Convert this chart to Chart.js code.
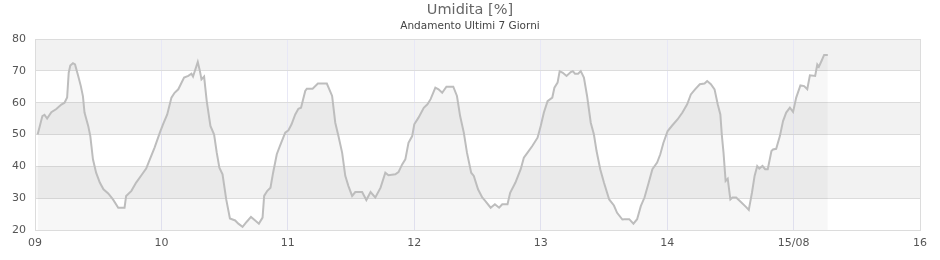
<!DOCTYPE html>
<html>
<head>
<meta charset="utf-8">
<script src="https://cdn.jsdelivr.net/npm/chart.js@4/dist/chart.umd.min.js"></script>
<style>
  html, body { margin: 0; padding: 0; background: #fff; }
  #wrap { width: 940px; height: 260px; }
</style>
</head>
<body>
<div id="wrap"><canvas id="humChart"></canvas></div>
<script>
// ore dall'inizio del 09/08
const hours = [
  0.5, 1.4, 1.8, 2.3, 3.1, 4.05, 5.0, 5.6, 6.1, 6.4, 6.7, 7.2, 7.6, 8.2, 8.7, 9.1, 9.4, 10.1, 10.5, 11.0,
  11.6, 12.3, 13.0, 13.9, 14.8, 15.8, 17.0, 17.3, 18.3, 19.2, 20.2, 21.1, 21.8, 22.7, 23.7, 24.3, 25.1, 25.9, 26.5, 27.2,
  28.3, 29.1, 29.7, 30.0, 30.9, 31.3, 31.6, 32.1, 32.6, 33.3, 34.0, 34.5, 35.0, 35.6, 36.3, 37.0, 38.0, 38.6, 39.4, 40.2,
  41.0, 41.8, 42.5, 43.2, 43.5, 44.1, 44.7, 45.2, 45.9, 46.5, 47.5, 48.1, 48.7, 49.4, 50.0, 50.5, 51.3, 51.6, 52.7, 53.7,
  55.4, 56.4, 57.0, 57.6, 58.3, 58.9, 59.5, 60.2, 60.8, 62.1, 62.9, 63.7, 64.6, 65.6, 66.5, 67.1, 68.4, 69.0, 69.7, 70.3,
  70.9, 71.6, 72.0, 72.8, 73.8, 74.5, 75.1, 76.0, 76.6, 77.3, 78.1, 79.4, 80.1, 80.7, 81.4, 82.0, 82.8, 83.3, 84.1, 84.9,
  85.5, 86.5, 87.3, 88.1, 88.7, 89.7, 90.2, 91.2, 92.2, 92.8, 93.5, 94.4, 95.4, 96.0, 96.6, 97.3, 98.2, 98.6, 99.2, 99.6,
  100.2, 100.9, 101.7, 102.1, 102.5, 103.1, 103.6, 104.2, 104.8, 105.5, 106.1, 106.6, 107.3, 108.0, 109.0, 109.9, 110.5, 111.5, 111.9, 112.8,
  113.6, 114.3, 115.0, 115.7, 116.4, 117.2, 118.1, 118.7, 119.3, 120.1, 121.0, 122.0, 122.9, 123.8, 124.5, 125.3, 126.2, 127.1, 127.6, 128.3,
  129.0, 129.6, 130.1, 130.4, 130.7, 131.1, 131.5, 132.0, 132.4, 133.1, 134.0, 135.0, 135.5, 136.1, 136.6, 137.1, 137.5, 138.1, 138.6, 139.1,
  139.8, 140.1, 140.7, 141.4, 142.0, 142.6, 143.3, 143.9, 144.5, 145.3, 146.0, 146.6, 147.1, 148.1, 148.5, 148.8, 149.3, 149.8, 150.5
];

const umidita = [
  50, 55.8, 56.2, 55, 57, 58, 59.4, 60, 61.6, 69.4, 71.7, 72.4, 72, 68.4, 65.2, 62, 56.9, 52.7, 49.5, 42.2,
  38, 34.9, 32.8, 31.5, 29.6, 27, 27, 30.7, 32.3, 34.9, 37.2, 39.3, 42.2, 45.9, 50.6, 53.2, 56.3, 61.6, 63.1, 64.2,
  67.9, 68.4, 69.1, 68.2, 72.8, 70, 67.3, 68.2, 60.5, 52.7, 50, 44.3, 39.6, 37.5, 29.6, 23.6, 23, 22, 21, 22.6,
  24.1, 23, 22, 23.9, 30.7, 32.3, 33.3, 38, 43.8, 46.4, 50.6, 51.3, 53.2, 56.3, 58.1, 58.4, 63.7, 64.4, 64.4, 66,
  66, 62.1, 53.7, 49.5, 44.3, 37, 33.8, 30.7, 31.9, 31.9, 29.4, 31.9, 30.2, 33.3, 38, 37.2, 37.5, 38.2, 40.6, 42.2,
  47.4, 49.5, 53.2, 55.3, 58.4, 59.5, 61.1, 64.7, 64.2, 63.1, 65, 65, 62.1, 55.8, 50.6, 44.3, 38, 37, 32.8, 30.2,
  29.1, 27, 28.1, 27, 28.1, 28.1, 31.7, 34.9, 39.1, 42.7, 44.3, 46.4, 49, 52.7, 56.9, 60.5, 61.6, 64.7, 66.3, 69.9,
  69.4, 68.4, 69.6, 69.9, 69.1, 69.1, 69.9, 67.9, 62.1, 53.7, 50, 44.8, 39.1, 34.9, 29.6, 27.7, 25.4, 23.3, 23.4, 23.4,
  22, 23.4, 27.5, 30.2, 34.3, 39.1, 41.2, 43.8, 47.4, 51.1, 52.9, 54.8, 56.9, 59.5, 62.6, 64.2, 65.8, 66, 66.8, 65.8,
  64.2, 59.5, 56.3, 49.5, 44.3, 35.4, 36.1, 29.6, 30.2, 30.2, 28.8, 27.2, 26.3, 31.7, 37, 40.1, 39.3, 40.1, 39.1, 39.1,
  44.8, 45.3, 45.5, 49.5, 54.2, 56.9, 58.4, 57.1, 61.6, 65.4, 65.2, 64.2, 68.6, 68.4, 72, 71.3, 73.1, 75, 75
];

const dayLabels = ['09', '10', '11', '12', '13', '14', '15/08', '16'];
const bands = [[30, 40], [50, 60], [70, 80]];

// fasce grigie alternate dietro al grafico
const bandPlugin = {
  id: 'bands',
  beforeDraw(chart) {
    const { ctx, chartArea, scales } = chart;
    ctx.save();
    ctx.fillStyle = '#f2f2f2';
    bands.forEach(b => {
      const top = scales.y.getPixelForValue(b[1]);
      const bottom = scales.y.getPixelForValue(b[0]);
      ctx.fillRect(chartArea.left, top, chartArea.right - chartArea.left, bottom - top);
    });
    ctx.restore();
  }
};

const points = hours.map((h, i) => ({ x: h, y: umidita[i] }));

new Chart(document.getElementById('humChart'), {
  type: 'line',
  data: {
    datasets: [{
      label: 'Umidita',
      data: points,
      borderColor: '#bdbdbd',
      borderWidth: 2,
      backgroundColor: 'rgba(0,0,0,0.03)',
      fill: 'start',
      pointRadius: 0,
      tension: 0
    }]
  },
  options: {
    responsive: true,
    maintainAspectRatio: false,
    animation: false,
    layout: { padding: 0 },
    plugins: {
      legend: { display: false },
      tooltip: { enabled: false },
      title: {
        display: true,
        text: 'Umidita [%]',
        color: '#666',
        font: { family: 'DejaVu Sans', size: 14.5, weight: 'normal' },
        padding: { top: 2, bottom: 0 }
      },
      subtitle: {
        display: true,
        text: 'Andamento Ultimi 7 Giorni',
        color: '#444',
        font: { family: 'DejaVu Sans', size: 10.5, weight: 'normal' },
        padding: { top: 1, bottom: 6 }
      }
    },
    scales: {
      x: {
        type: 'linear',
        min: 0,
        max: 168,
        afterFit: s => { s.height = 30; s.paddingLeft = 0; s.paddingRight = 20; },
        ticks: {
          stepSize: 24,
          color: '#555',
          padding: 7,
          font: { family: 'DejaVu Sans', size: 11 },
          callback: (v) => dayLabels[Math.round(v / 24)]
        },
        grid: {
          drawTicks: false,
          color: ctx => (ctx.index === 0 || ctx.index === dayLabels.length - 1) ? '#dcdcdc' : '#e8e8f6'
        },
        border: { color: '#dcdcdc' }
      },
      y: {
        min: 20,
        max: 80,
        afterFit: s => { s.width = 35; },
        ticks: {
          stepSize: 10,
          color: '#555',
          padding: 9,
          font: { family: 'DejaVu Sans', size: 11 }
        },
        grid: { drawTicks: false, color: '#dcdcdc' },
        border: { color: '#dcdcdc' }
      }
    }
  },
  plugins: [bandPlugin]
});
</script>
</body>
</html>
